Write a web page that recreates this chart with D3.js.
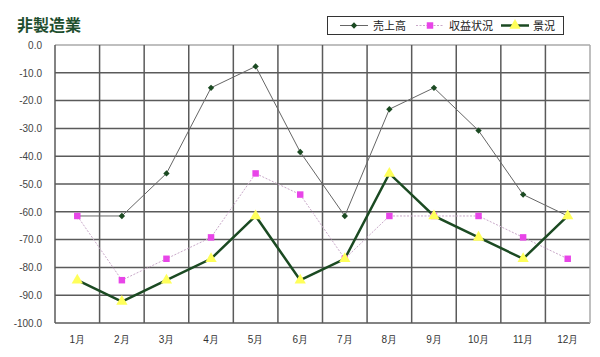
<!DOCTYPE html>
<html><head><meta charset="utf-8">
<script src="https://cdn.jsdelivr.net/npm/d3@7"></script>
<style>body{margin:0;background:#fff;}svg{display:block;font-family:"Noto Sans CJK JP","Noto Sans",sans-serif;}</style>
</head><body><div id="chart"></div>
<script>
const months = ["1月","2月","3月","4月","5月","6月","7月","8月","9月","10月","11月","12月"];
const sales = [-61.5,-61.5,-46.2,-15.4,-7.7,-38.5,-61.5,-23.1,-15.4,-30.8,-53.8,-61.5];
const profit = [-61.5,-84.6,-76.9,-69.2,-46.2,-53.8,-76.9,-61.5,-61.5,-61.5,-69.2,-76.9];
const business = [-84.6,-92.3,-84.6,-76.9,-61.5,-84.6,-76.9,-46.2,-61.5,-69.2,-76.9,-61.5];
const yTicks = [0,-10,-20,-30,-40,-50,-60,-70,-80,-90,-100];
const seriesNames = ["売上高","収益状況","景況"];

const W=600,H=357;
const svg=d3.select("#chart").append("svg").attr("width",W).attr("height",H);
const L=55,R=590,T=45,B=323;
const x=d3.scaleBand().domain(months).range([L,R]);
const y=d3.scaleLinear().domain([-100,0]).range([B,T]);

// grid
svg.append("g").selectAll("line.h").data(yTicks).join("line")
  .attr("x1",L).attr("x2",R).attr("y1",d=>y(d)).attr("y2",d=>y(d))
  .attr("stroke",d=>d===0?"#aaa":"#5a5a5a").attr("stroke-width",1.5);
const vx=months.map(m=>x(m)).concat([R]);
svg.append("g").selectAll("line.v").data(vx).join("line")
  .attr("x1",d=>d).attr("x2",d=>d).attr("y1",T).attr("y2",B)
  .attr("stroke",(d,i)=>i===vx.length-1?"#aaa":"#5a5a5a").attr("stroke-width",1.5);

// y axis labels
const ya=svg.append("g").attr("transform",`translate(${L-10},0)`)
  .call(d3.axisLeft(y).tickValues(yTicks).tickSize(0).tickFormat(d=>d3.format(".1f")(d).replace("−","-")));
ya.select(".domain").remove();
ya.selectAll("text").attr("font-size",10).attr("fill","#444").attr("font-family","Liberation Sans, Arial, sans-serif");

// x axis labels
const xa=svg.append("g").attr("transform",`translate(0,${B+8})`)
  .call(d3.axisBottom(x).tickSize(0));
xa.select(".domain").remove();
xa.selectAll("text").attr("font-size",10).attr("fill","#333").attr("dy","0.9em");

const cx=m=>x(m)+x.bandwidth()/2;
const line=d3.line().x((d,i)=>cx(months[i])).y(d=>y(d));

// profit (dashed)
svg.append("path").datum(profit).attr("d",line).attr("fill","none")
  .attr("stroke","#c9a9c9").attr("stroke-width",1).attr("stroke-dasharray","2,1.5");
// sales
svg.append("path").datum(sales).attr("d",line).attr("fill","none")
  .attr("stroke","#666").attr("stroke-width",1);
// business
svg.append("path").datum(business).attr("d",line).attr("fill","none")
  .attr("stroke","#1b4a22").attr("stroke-width",2.5);

const diamond=d3.symbol().type(d3.symbolSquare).size(20);
const square=d3.symbol().type(d3.symbolSquare).size(42);
const tri=d3.symbol().type(d3.symbolTriangle).size(55);

svg.append("g").selectAll("path").data(sales).join("path")
  .attr("d",diamond).attr("transform",(d,i)=>`translate(${cx(months[i])},${y(d)}) rotate(45)`).attr("fill","#1b4a22");
svg.append("g").selectAll("path").data(profit).join("path")
  .attr("d",square).attr("transform",(d,i)=>`translate(${cx(months[i])},${y(d)})`).attr("fill","#e845e8");
svg.append("g").selectAll("path").data(business).join("path")
  .attr("d",tri).attr("transform",(d,i)=>`translate(${cx(months[i])},${y(d)})`).attr("fill","#ffff5a");

// title
svg.append("text").attr("x",17).attr("y",31).text("非製造業")
  .attr("font-size",16).attr("font-weight","bold").attr("fill","#1f4f2f");

// legend
const lg=svg.append("g");
lg.append("rect").attr("x",327.5).attr("y",16.5).attr("width",236).attr("height",18)
  .attr("fill","#fff").attr("stroke","#333").attr("stroke-width",1);
const legItems=[
  {name:seriesNames[0],x1:340,x2:368,tx:373,stroke:"#666",sw:1,dash:null,sym:diamond,rot:45,fill:"#1b4a22"},
  {name:seriesNames[1],x1:416,x2:444,tx:449,stroke:"#c9a9c9",sw:1,dash:"2,1.5",sym:square,rot:0,fill:"#e845e8"},
  {name:seriesNames[2],x1:501,x2:529,tx:533,stroke:"#1b4a22",sw:2.5,dash:null,sym:tri,rot:0,fill:"#ffff5a"}
];
legItems.forEach(it=>{
  lg.append("line").attr("x1",it.x1).attr("x2",it.x2).attr("y1",25.5).attr("y2",25.5)
    .attr("stroke",it.stroke).attr("stroke-width",it.sw).attr("stroke-dasharray",it.dash);
  lg.append("path").attr("d",it.sym).attr("transform",`translate(${(it.x1+it.x2)/2},25.5) rotate(${it.rot})`).attr("fill",it.fill);
  lg.append("text").attr("x",it.tx).attr("y",30).text(it.name).attr("font-size",11).attr("fill","#222");
});
</script></body></html>
